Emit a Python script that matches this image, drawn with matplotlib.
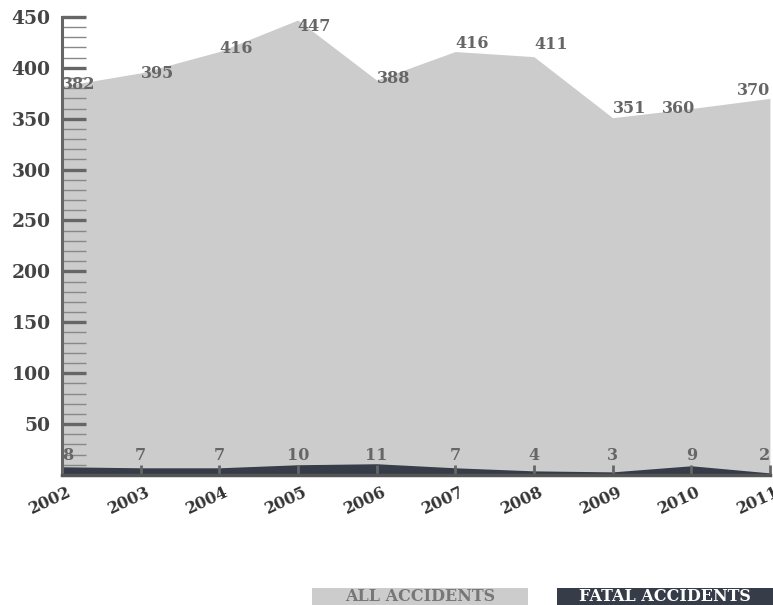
import matplotlib.pyplot as plt
import matplotlib.transforms as mtransforms
from matplotlib.patches import Rectangle
from matplotlib.ticker import MultipleLocator

years = [2002, 2003, 2004, 2005, 2006, 2007, 2008, 2009, 2010, 2011]
all_accidents = [382, 395, 416, 447, 388, 416, 411, 351, 360, 370]
fatal_accidents = [8, 7, 7, 10, 11, 7, 4, 3, 9, 2]
yticks = [50, 100, 150, 200, 250, 300, 350, 400, 450]

light = '#cccccc'
dark = '#363c48'
serif = 'DejaVu Serif'

fig = plt.figure(figsize=(7.73, 6.05), dpi=100)
ax = fig.add_axes([0.080, 0.215, 0.916, 0.757])

ax.fill_between(years, 0, all_accidents, color=light, lw=0)
ax.fill_between(years, 0, fatal_accidents, color=dark, lw=0)

ax.set_xlim(years[0], years[-1])
ax.set_ylim(0, 450)

# value labels for all accidents (nudged like the original)
label_dy = [2, -1, 3, -6, 2, 8, 12, 9, 0, 8]
for i, (x, v) in enumerate(zip(years, all_accidents)):
    ha = 'right' if i >= len(years) - 2 else 'left'
    dx = 0.05 if i == len(years) - 2 else 0
    ax.text(x + dx, v + label_dy[i], str(v), ha=ha, va='center', fontsize=11.5,
            fontweight='bold', family=serif, color='#666666')

# value labels for fatal accidents
for i, (x, v) in enumerate(zip(years, fatal_accidents)):
    if i == 0:
        ha = 'left'
    elif i == len(years) - 1:
        ha = 'right'
    else:
        ha = 'center'
    ax.text(x, 19, str(v), ha=ha, va='center', fontsize=11.5,
            fontweight='bold', family=serif, color='#666666')

for s in ['top', 'right']:
    ax.spines[s].set_visible(False)
ax.spines['left'].set_color('#666666')
ax.spines['left'].set_linewidth(2.2)
ax.spines['bottom'].set_color('#555555')
ax.spines['bottom'].set_linewidth(2.5)

ax.set_yticks(yticks)
ax.set_yticklabels([str(t) for t in yticks])
ax.yaxis.set_minor_locator(MultipleLocator(10))
ax.tick_params(axis='y', which='major', direction='in', length=17, width=2.4,
               color='#666666', labelsize=13.5, labelcolor='#444444', pad=8)
ax.tick_params(axis='y', which='minor', direction='in', length=17, width=1,
               color='#888888')

ax.set_xticks(years)
ax.set_xticklabels([str(y) for y in years], rotation=25, ha='right',
                   rotation_mode='anchor')
ax.tick_params(axis='x', direction='in', length=7, width=2, color='#666666',
               labelsize=11.5, labelcolor='#333333', pad=6)

shift = mtransforms.ScaledTranslation(5 / 100, 0, fig.dpi_scale_trans)
for lab in ax.get_xticklabels():
    lab.set_transform(lab.get_transform() + shift)
for lab in ax.get_xticklabels() + ax.get_yticklabels():
    lab.set_family(serif)
    lab.set_fontweight('bold')

# legend boxes
fig.add_artist(Rectangle((312 / 773, 0), 216 / 773, 17 / 605,
                         transform=fig.transFigure, color=light, lw=0))
fig.add_artist(Rectangle((557 / 773, 0), 216 / 773, 17 / 605,
                         transform=fig.transFigure, color=dark, lw=0))
fig.text(420 / 773, 8.5 / 605, 'ALL ACCIDENTS', ha='center', va='center',
         fontsize=11.5, fontweight='bold', family=serif, color='#777777')
fig.text(665 / 773, 8.5 / 605, 'FATAL ACCIDENTS', ha='center', va='center',
         fontsize=11.5, fontweight='bold', family=serif, color='white')

fig.savefig('out.png', dpi=100)
